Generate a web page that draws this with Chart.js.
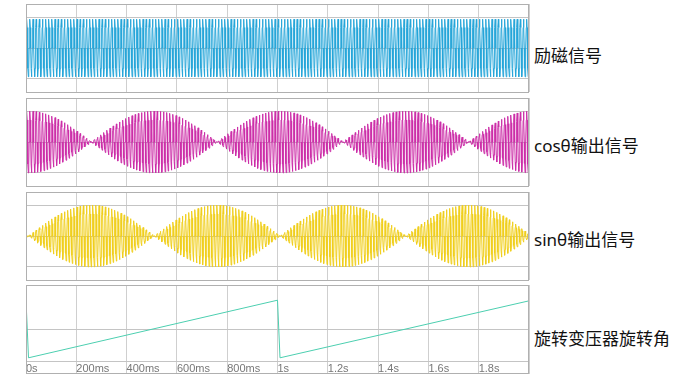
<!DOCTYPE html>
<html>
<head>
<meta charset="utf-8">
<script src="https://cdn.jsdelivr.net/npm/chart.js@4/dist/chart.umd.min.js"></script>
<style>
  body { margin: 0; background: #fff; }
  #wrap { position: relative; width: 675px; height: 384px; overflow: hidden; }
  .panel { position: absolute; left: 0; width: 530px; }
  .label {
    position: absolute; left: 534px; white-space: nowrap;
    font-family: "Noto Sans", "Noto Sans CJK SC", sans-serif;
    font-size: 17px; line-height: 20px; color: #111;
  }
</style>
</head>
<body>
<div id="wrap">
  <div class="panel" style="top:3px;height:90px"><canvas id="c0"></canvas></div>
  <div class="panel" style="top:97px;height:90px"><canvas id="c1"></canvas></div>
  <div class="panel" style="top:191px;height:90px"><canvas id="c2"></canvas></div>
  <div class="panel" style="top:284px;height:91px"><canvas id="c3"></canvas></div>
  <div class="label" id="l0" style="top:46px"></div>
  <div class="label" id="l1" style="top:136px"></div>
  <div class="label" id="l2" style="top:230px"></div>
  <div class="label" id="l3" style="top:329px"></div>
</div>
<script>
const panelLabels = ['励磁信号', 'cosθ输出信号', 'sinθ输出信号', '旋转变压器旋转角'];
const panelColors = ['#27a6d9', '#cc2fa8', '#f0cf1e', '#4ccfb0'];

// one period of the excitation carrier (8 samples), 80 Hz
const carrierWave = [0, 0.71, 1, 0.71, 0, -0.71, -1, -0.71];
const carrierFreq = 80;
const excitationAmp = 0.93;

// rotor angle sawtooth (seconds / normalised value)
const angleTimes = [0, 0.01, 1.0, 1.01, 2.0];
const angleValues = [0.9, -0.9, 0.9, -0.9, 0.88];

const xTicks = [0, 0.2, 0.4, 0.6, 0.8, 1.0, 1.2, 1.4, 1.6, 1.8, 2.0];
const xTickLabels = ['0s', '200ms', '400ms', '600ms', '800ms', '1s', '1.2s', '1.4s', '1.6s', '1.8s', ''];

panelLabels.forEach((txt, i) => { document.getElementById('l' + i).textContent = txt; });

const sampleCount = 2 * carrierFreq * carrierWave.length;
const excitation = [], cosOut = [], sinOut = [];
for (let i = 0; i <= sampleCount; i++) {
  const t = i / (carrierFreq * carrierWave.length);
  const c = carrierWave[i % carrierWave.length];
  const phase = (((t - angleTimes[1]) % 1) + 1) % 1;
  const theta = 2 * Math.PI * phase;
  excitation.push({ x: t, y: excitationAmp * c });
  cosOut.push({ x: t, y: Math.cos(theta) * c });
  sinOut.push({ x: t, y: Math.sin(theta) * c });
}
const angle = angleTimes.map((t, i) => ({ x: t, y: angleValues[i] }));

const boxPlugin = {
  id: 'box',
  afterDraw(chart) {
    const a = chart.chartArea;
    const bottom = chart.scales.x.options.ticks.display ? chart.scales.x.bottom - 1 : a.bottom;
    const ctx = chart.ctx;
    ctx.save();
    ctx.strokeStyle = '#b0b0b0';
    ctx.lineWidth = 1;
    ctx.strokeRect(Math.round(a.left) + 0.5, Math.round(a.top) + 0.5,
      Math.round(a.right - a.left) - 1, Math.round(bottom - a.top));
    ctx.restore();
  }
};

function makePanel(id, data, color, yMin, yMax, showTicks) {
  return new Chart(document.getElementById(id), {
    type: 'line',
    data: { datasets: [{ data: data, borderColor: color, borderWidth: 1, pointRadius: 0, tension: 0 }] },
    options: {
      animation: false,
      responsive: true,
      maintainAspectRatio: false,
      layout: { padding: { left: 26, right: 1, top: 1, bottom: 1 } },
      plugins: { legend: { display: false }, tooltip: { enabled: false } },
      scales: {
        x: {
          type: 'linear', min: 0, max: 2,
          afterBuildTicks: s => { s.ticks = xTicks.map(v => ({ value: v })); },
          afterFit: s => { s.height = showTicks ? 13 : 0; },
          border: { display: false },
          grid: { color: '#cfcfcf', drawTicks: showTicks, tickLength: 13 },
          ticks: {
            display: showTicks, autoSkip: false, maxRotation: 0, align: 'start', padding: -12,
            color: '#777', font: { family: 'Liberation Sans', size: 11 },
            callback: (v, i) => xTickLabels[i]
          }
        },
        y: {
          min: yMin, max: yMax,
          ticks: { display: false, stepSize: 1 },
          afterFit: s => { s.width = 0; },
          border: { display: false },
          grid: { color: '#c4c4c4', drawTicks: false }
        }
      }
    },
    plugins: [boxPlugin]
  });
}

makePanel('c0', excitation, panelColors[0], -1.42, 1.42, false);
makePanel('c1', cosOut, panelColors[1], -1.42, 1.42, false);
makePanel('c2', sinOut, panelColors[2], -1.42, 1.42, false);
makePanel('c3', angle, panelColors[3], -1, 1.375, true);
</script>
</body>
</html>
